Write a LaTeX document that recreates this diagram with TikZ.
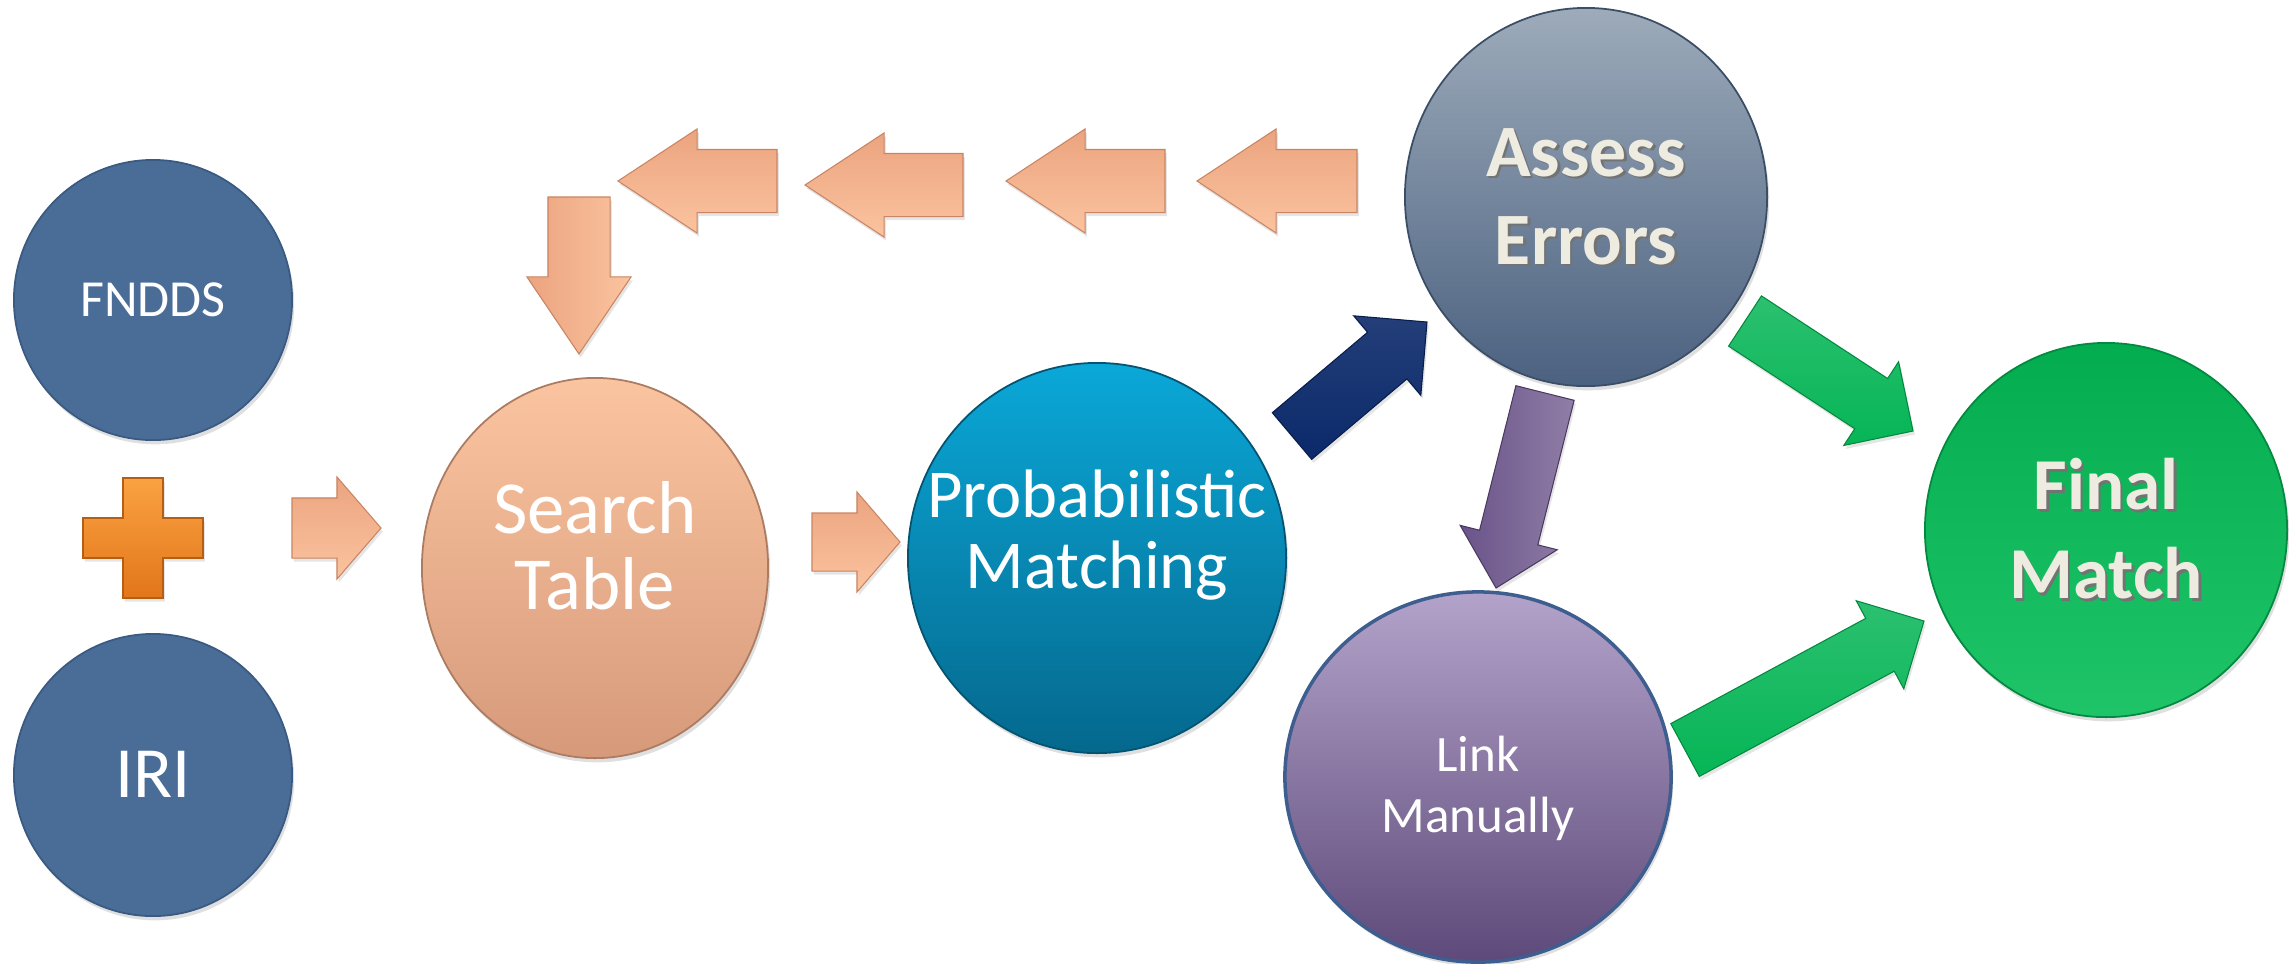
\documentclass[tikz,border=0pt]{standalone}
\usepackage{fontspec}
\setmainfont{Carlito}
\usetikzlibrary{calc}
\usetikzlibrary{shapes.geometric}
\usetikzlibrary{shadows}
\usepackage{xcolor}

\definecolor{nodeblue}{HTML}{4A6D98}
\definecolor{nodeedge}{HTML}{3A5A82}
\definecolor{plustop}{HTML}{FAA242}
\definecolor{plusbot}{HTML}{E2761A}
\definecolor{peachtop}{HTML}{EBA47F}
\definecolor{peachbot}{HTML}{FBC39F}
\definecolor{peachedge}{HTML}{C98563}
\definecolor{searchtop}{HTML}{FBC4A0}
\definecolor{searchbot}{HTML}{D69A7B}
\definecolor{probtop}{HTML}{0AA8D8}
\definecolor{probbot}{HTML}{05688D}
\definecolor{assesstop}{HTML}{9DABBA}
\definecolor{assessbot}{HTML}{4B6180}
\definecolor{navyarrow}{HTML}{0B296A}
\definecolor{purplearrow}{HTML}{6A5389}
\definecolor{greenarrow}{HTML}{06B556}
\definecolor{finaltop}{HTML}{04AC50}
\definecolor{finalbot}{HTML}{1FC468}
\definecolor{linktop}{HTML}{B3A3CA}
\definecolor{linkbot}{HTML}{5E4A7A}
\definecolor{linkedge}{HTML}{3D5E8E}
\definecolor{cream}{HTML}{EEECE1}

\tikzset{
  bubble/.style={ellipse, inner sep=0pt, draw=#1, line width=0.5pt,
    drop shadow={opacity=0.25, shadow xshift=0.6pt, shadow yshift=-1.2pt}},
  blocktxt/.style={align=center, text=white, inner sep=0pt},
  embossed/.style={align=center, text=cream, inner sep=0pt},
  arrowshade/.style={line width=0.3pt,
    drop shadow={opacity=0.2, shadow xshift=0.5pt, shadow yshift=-1pt}},
  peacharrow/.style={arrowshade, draw=peachedge, top color=peachtop, bottom color=peachbot},
  navy/.style={arrowshade, draw=navyarrow!70!black, top color=navyarrow!90!white, bottom color=navyarrow},
  lilac/.style={arrowshade, draw=purplearrow!70!black, left color=purplearrow, right color=purplearrow!75!white},
  greenblock/.style={arrowshade, draw=greenarrow!75!black, top color=greenarrow!85!white, bottom color=greenarrow}
}

% block arrow: [style]{tail}{tip}{body half width}{head half width}{head length}
\newcommand\blockarrow[6][]{%
  \coordinate (ba-b) at ($(#3)!#6!(#2)$);
  \path[#1] ($(#2)!#4!90:(#3)$) -- ($(ba-b)!#4!90:(#3)$) -- ($(ba-b)!#5!90:(#3)$) -- (#3)
    -- ($(ba-b)!#5!-90:(#3)$) -- ($(ba-b)!#4!-90:(#3)$) -- ($(#2)!#4!-90:(#3)$) -- cycle;
}
\newcommand\emboss[1]{\rlap{\kern0.7pt\raisebox{-0.7pt}{\color{black!55}#1}}#1}

\begin{document}
\begin{tikzpicture} [x=0.01cm, y=-0.01cm]
\fill[white] (0,0) rectangle (2289,963);
\useasboundingbox (0,0) rectangle (2289,963);

% sources
\node[bubble=nodeedge, fill=nodeblue, minimum width=2.78cm, minimum height=2.8cm] (fndds) at (153,300) {};
\node[bubble=nodeedge, fill=nodeblue, minimum width=2.78cm, minimum height=2.82cm] (iri) at (153,775) {};
\node[blocktxt, font=\fontsize{14.8}{17}\selectfont] (fndds-t) at (153,300) {FNDDS};
\node[blocktxt, font=\fontsize{20.5}{24}\selectfont] (iri-t) at (153,774) {IRI};
\path[draw=plusbot!80!black, line width=0.3pt, top color=plustop, bottom color=plusbot,
  drop shadow={opacity=0.2, shadow xshift=0.5pt, shadow yshift=-1pt}]
  (123,478) -- (163,478) -- (163,518) -- (203,518) -- (203,558) -- (163,558) -- (163,598)
  -- (123,598) -- (123,558) -- (83,558) -- (83,518) -- (123,518) -- cycle;

% stages
\node[bubble=searchbot!80!black, top color=searchtop, bottom color=searchbot, minimum width=3.46cm, minimum height=3.8cm] (search) at (595,568) {};
\node[bubble=probbot!80!black, top color=probtop, bottom color=probbot, minimum width=3.78cm, minimum height=3.9cm] (prob) at (1097,558) {};
\node[bubble=assessbot!80!black, top color=assesstop, bottom color=assessbot, minimum width=3.62cm, minimum height=3.78cm] (assess) at (1586,197) {};
\node[bubble=linkedge, line width=1pt, top color=linktop, bottom color=linkbot, minimum width=3.86cm, minimum height=3.7cm] (link) at (1478,777) {};
\node[bubble=finaltop!80!black, top color=finaltop, bottom color=finalbot, minimum width=3.62cm, minimum height=3.74cm] (final) at (2106,530) {};

\node[blocktxt, font=\fontsize{21.3}{21.6}\selectfont] (search-t) at (595,546) {Search\\Table};
\node[blocktxt, font=\fontsize{19.5}{20}\selectfont] (prob-t) at (1097,535) {Probabilistic\\Matching};
\node[embossed, font=\bfseries\fontsize{21}{25}\selectfont] (assess-t) at (1586,198) {\emboss{Assess}\\\emboss{Errors}};
\node[blocktxt, font=\fontsize{14.5}{17.4}\selectfont] (link-t) at (1478,788) {Link\\Manually};
\node[embossed, font=\bfseries\fontsize{20.8}{25.3}\selectfont] (final-t) at (2106,530) {\emboss{Final}\\\emboss{Match}};

% arrows
\coordinate (in1t) at (292,528); \coordinate (in1h) at (381,528);
\coordinate (in2t) at (812,542); \coordinate (in2h) at (900,542);
\blockarrow[peacharrow]{in1t}{in1h}{0.30cm}{0.51cm}{0.44cm}
\blockarrow[peacharrow]{in2t}{in2h}{0.29cm}{0.50cm}{0.43cm}
\foreach \e/\t/\y [count=\i] in {777/618/181, 963/805/185, 1165/1006/181, 1357/1197/181} {
  \coordinate (back\i t) at (\e,\y);
  \coordinate (back\i h) at (\t,\y);
  \blockarrow[peacharrow]{back\i t}{back\i h}{0.315cm}{0.52cm}{0.79cm}
}
\coordinate (downt) at (579,197); \coordinate (downh) at (579,354);
\blockarrow[peacharrow, left color=peachtop, right color=peachbot]{downt}{downh}{0.31cm}{0.52cm}{0.77cm}

\coordinate (navyt) at (1292,436); \coordinate (navyh) at (1427,322);
\blockarrow[navy]{navyt}{navyh}{0.305cm}{0.52cm}{0.52cm}
\coordinate (lilact) at (1545,393); \coordinate (lilach) at (1496,588);
\blockarrow[lilac]{lilact}{lilach}{0.30cm}{0.50cm}{0.52cm}
\coordinate (green1t) at (1745,321); \coordinate (green1h) at (1913,431);
\blockarrow[greenblock]{green1t}{green1h}{0.30cm}{0.50cm}{0.50cm}
\coordinate (green2t) at (1685,750); \coordinate (green2h) at (1924,621);
\blockarrow[greenblock]{green2t}{green2h}{0.30cm}{0.50cm}{0.50cm}
\end{tikzpicture}
\end{document}
